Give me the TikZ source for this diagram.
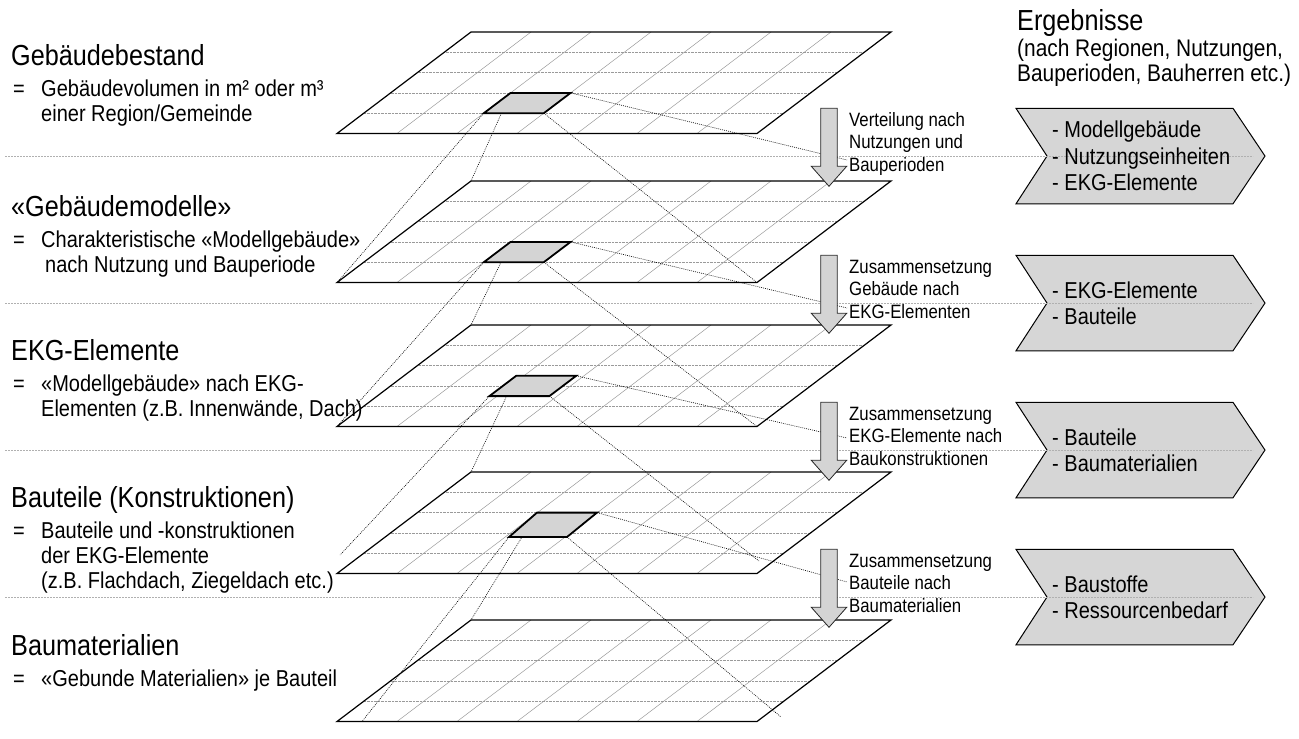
\documentclass[tikz,border=0pt]{standalone}
\usepackage{fontspec}
\setmainfont{Liberation Sans}[FakeStretch=0.87]
\usetikzlibrary{calc}
\definecolor{cellgray}{HTML}{D4D4D4}
\definecolor{boxgray}{HTML}{D6D6D6}
\definecolor{sepgray}{HTML}{B0B0B0}
\definecolor{gridgray}{HTML}{9A9A9A}
\begin{document}
\begin{tikzpicture}[x=1pt,y=-1pt,
  planeedge/.style={draw=black,line width=1.2pt,line join=miter},
  gridh/.style={draw=gridgray,line width=0.7pt,dash pattern=on 0.8pt off 0.6pt},
  gridv/.style={draw=gridgray,line width=0.5pt},
  cellbox/.style={draw=black,line width=1.8pt,fill=cellgray,line join=miter},
  conn/.style={draw=black,line width=0.6pt,dash pattern=on 0.9pt off 1.1pt},
  sepline/.style={draw=sepgray,line width=0.6pt,dash pattern=on 2pt off 1pt},
  chev/.style={draw=black,line width=1pt,fill=boxgray,line join=miter},
  blockarrow/.style={draw=black!85,line width=0.8pt,fill=cellgray,line join=miter},
  headtxt/.style={font=\fontsize{29}{34}\selectfont,anchor=base west,inner sep=0pt},
  subtxt/.style={font=\fontsize{23}{27}\selectfont,anchor=base west,inner sep=0pt},
  restxt/.style={font=\fontsize{24}{28}\selectfont,anchor=base west,inner sep=0pt},
  chevtxt/.style={font=\fontsize{23}{27}\selectfont,anchor=base west,inner sep=0pt},
  arrtxt/.style={font=\fontsize{19.3}{22}\selectfont,anchor=base west,inner sep=0pt},
]
\useasboundingbox (0,0) rectangle (1299,739);

% chevrons (result boxes)
\foreach \k/\a in {1/108.3,2/255.3,3/402.3,4/549.3}{
  \coordinate (ch\k a) at (1016,\a);
  \coordinate (ch\k b) at (1233,\a);
  \coordinate (ch\k c) at (1265,\a+47.75);
  \coordinate (ch\k d) at (1233,\a+95.5);
  \coordinate (ch\k e) at (1016,\a+95.5);
  \coordinate (ch\k f) at (1047,\a+47.75);
  \draw[chev] (ch\k a) -- (ch\k b) -- (ch\k c) -- (ch\k d) -- (ch\k e) -- (ch\k f) -- cycle;
  \coordinate (sep\k a) at (5,\a+48);
  \coordinate (sep\k b) at (1253,\a+48);
  \draw[sepline] (sep\k a) -- (sep\k b);
}

% planes
\foreach \k/\t in {1/32,2/181,3/325,4/472,5/620}{
  \coordinate (p\k tl) at (471,\t);
  \coordinate (p\k tr) at (891,\t);
  \coordinate (p\k br) at (757,\t+101.5);
  \coordinate (p\k bl) at (337,\t+101.5);
  \foreach \v in {1,...,4}
    \draw[gridh] ($(p\k tl)!\v/5!(p\k bl)$) -- ($(p\k tr)!\v/5!(p\k br)$);
  \foreach \u in {1,...,6}
    \draw[gridv] ($(p\k tl)!\u/7!(p\k tr)$) -- ($(p\k bl)!\u/7!(p\k br)$);
  \draw[planeedge] (p\k tl) -- (p\k tr) -- (p\k br) -- (p\k bl) -- cycle;
}

% highlighted cells
\coordinate (c1tl) at (510.6,92.9);  \coordinate (c1tr) at (570.6,92.9);
\coordinate (c1br) at (543.8,113.2); \coordinate (c1bl) at (483.8,113.2);
\coordinate (c2tl) at (510.6,241.9); \coordinate (c2tr) at (570.6,241.9);
\coordinate (c2br) at (543.8,262.2); \coordinate (c2bl) at (483.8,262.2);
\coordinate (c3tl) at (516.2,375.8); \coordinate (c3tr) at (576.2,375.8);
\coordinate (c3br) at (549.4,396.1); \coordinate (c3bl) at (489.4,396.1);
\coordinate (c4tl) at (537,512.6);   \coordinate (c4tr) at (597,512.6);
\coordinate (c4br) at (567,537);     \coordinate (c4bl) at (509,537);

% free ends of connectors
\coordinate (e1) at (847,160);
\coordinate (e2) at (847,308);
\coordinate (e3) at (847,438);
\coordinate (e4) at (847,582);
\coordinate (f3bl) at (340,555);
\coordinate (f3br) at (759,561);
\coordinate (f4bl) at (362,721.5);
\coordinate (f4br) at (781,717);

% dotted projection lines
\draw[conn] (c1tl) -- (p2tl);
\draw[conn] (c1bl) -- (p2bl);
\draw[conn] (c1br) -- (p2br);
\draw[conn] (c1tr) -- (e1);
\draw[conn] (c2tl) -- (p3tl);
\draw[conn] (c2bl) -- (p3bl);
\draw[conn] (c2br) -- (p3br);
\draw[conn] (c2tr) -- (e2);
\draw[conn] (c3tl) -- (p4tl);
\draw[conn] (c3bl) -- (f3bl);
\draw[conn] (c3br) -- (f3br);
\draw[conn] (c3tr) -- (e3);
\draw[conn] (c4tl) -- (p5tl);
\draw[conn] (c4bl) -- (f4bl);
\draw[conn] (c4br) -- (f4br);
\draw[conn] (c4tr) -- (e4);

\foreach \k in {1,2,3,4}
  \draw[cellbox] (c\k tl) -- (c\k tr) -- (c\k br) -- (c\k bl) -- cycle;

% block arrows
\foreach \k/\a in {1/108.3,2/255.3,3/402.3,4/549.3}{
  \coordinate (ar\k top) at (829,\a);
  \coordinate (ar\k tip) at (829,\a+78);
  \draw[blockarrow] ($(ar\k top)+(-8.3,0)$) -- ($(ar\k top)+(8.3,0)$)
     -- ($(ar\k top)+(8.3,58)$) -- ($(ar\k top)+(17.7,58)$) -- (ar\k tip)
     -- ($(ar\k top)+(-17.7,58)$) -- ($(ar\k top)+(-8.3,58)$) -- cycle;
}

% left texts
\node[headtxt] (h1) at (11,65) {Gebäudebestand};
\node[subtxt] (q1) at (13,96) {=};
\node[subtxt] (s1a) at (41,96) {Gebäudevolumen in m² oder m³};
\node[subtxt] (s1b) at (41,121) {einer Region/Gemeinde};

\node[headtxt] (h2) at (11,216.5) {«Gebäudemodelle»};
\node[subtxt] (q2) at (13,247) {=};
\node[subtxt] (s2a) at (41,247) {Charakteristische «Modellgebäude»};
\node[subtxt] (s2b) at (45,272) {nach Nutzung und Bauperiode};

\node[headtxt] (h3) at (11,360.5) {EKG-Elemente};
\node[subtxt] (q3) at (13,391) {=};
\node[subtxt] (s3a) at (41,391) {«Modellgebäude» nach EKG-};
\node[subtxt] (s3b) at (41,416) {Elementen (z.B. Innenwände, Dach)};

\node[headtxt] (h4) at (11,507.5) {Bauteile (Konstruktionen)};
\node[subtxt] (q4) at (13,538) {=};
\node[subtxt] (s4a) at (41,538) {Bauteile und -konstruktionen};
\node[subtxt] (s4b) at (41,563) {der EKG-Elemente};
\node[subtxt] (s4c) at (41,588) {(z.B. Flachdach, Ziegeldach etc.)};

\node[headtxt] (h5) at (11,655.5) {Baumaterialien};
\node[subtxt] (q5) at (13,686) {=};
\node[subtxt] (s5a) at (41,686) {«Gebunde Materialien» je Bauteil};

% results header
\node[headtxt] (rh) at (1017,30) {Ergebnisse};
\node[restxt] (rs1) at (1017,56) {(nach Regionen, Nutzungen,};
\node[restxt] (rs2) at (1017,81) {Bauperioden, Bauherren etc.)};

% arrow labels
\node[arrtxt] (l1a) at (849,126.3) {Verteilung nach};
\node[arrtxt] (l1b) at (849,148.8) {Nutzungen und};
\node[arrtxt] (l1c) at (849,171.3) {Bauperioden};
\node[arrtxt] (l2a) at (849,273.3) {Zusammensetzung};
\node[arrtxt] (l2b) at (849,295.8) {Gebäude nach};
\node[arrtxt] (l2c) at (849,318.3) {EKG-Elementen};
\node[arrtxt] (l3a) at (849,420.3) {Zusammensetzung};
\node[arrtxt] (l3b) at (849,442.8) {EKG-Elemente nach};
\node[arrtxt] (l3c) at (849,465.3) {Baukonstruktionen};
\node[arrtxt] (l4a) at (849,567.3) {Zusammensetzung};
\node[arrtxt] (l4b) at (849,589.8) {Bauteile nach};
\node[arrtxt] (l4c) at (849,612.3) {Baumaterialien};

% chevron texts
\node[chevtxt] (r1a) at (1052,137.5) {- Modellgebäude};
\node[chevtxt] (r1b) at (1052,164) {- Nutzungseinheiten};
\node[chevtxt] (r1c) at (1052,190.5) {- EKG-Elemente};
\node[chevtxt] (r2a) at (1052,298) {- EKG-Elemente};
\node[chevtxt] (r2b) at (1052,324.5) {- Bauteile};
\node[chevtxt] (r3a) at (1052,445) {- Bauteile};
\node[chevtxt] (r3b) at (1052,471.5) {- Baumaterialien};
\node[chevtxt] (r4a) at (1052,592) {- Baustoffe};
\node[chevtxt] (r4b) at (1052,618.5) {- Ressourcenbedarf};
\end{tikzpicture}
\end{document}
